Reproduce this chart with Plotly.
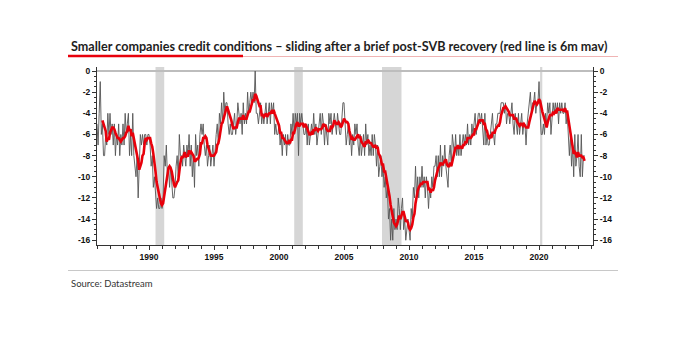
import plotly.graph_objects as go
import pandas as pd

# ---- data: monthly net % (Jan..Dec), start Jan 1986 ----
start_year = 1986
monthly_values = [
    [-5, -7, -4, -1, -6, -5, -8, -8, -6, -7, -4, -6],          # 1986
    [-4, -6, -5, -7, -5, -8, -6, -7, -5, -8, -6, -7],          # 1987
    [-5, -7, -4, -6, -5, -4, -8, -6, -8, -4, -8, -9],          # 1988
    [-10, -8, -12, -9, -6, -7, -6, -7, -6, -6, -7, -6],        # 1989
    [-6, -7, -9, -8, -11, -10, -12, -13, -12, -13, -13, -12],  # 1990
    [-13, -12, -8, -9, -7, -10, -9, -11, -9, -11, -12, -12],   # 1991
    [-11, -9, -8, -10, -6, -8, -8, -9, -7, -8, -9, -7],        # 1992
    [-8, -6, -9, -7, -10, -8, -11, -6, -8, -7, -9, -6],        # 1993
    [-5, -6, -5, -7, -8, -7, -9, -8, -7, -9, -8, -7],          # 1994
    [-9, -7, -6, -5, -7, -4, -5, -3, -5, -2, -4, -3],          # 1995
    [-3, -5, -6, -5, -6, -6, -5, -4, -6, -5, -3, -4],          # 1996
    [-5, -4, -6, -3, -5, -4, -5, -2, -4, -3, -2, -3],          # 1997
    [-2, -3, 0, -4, -4, -5, -4, -3, -5, -4, -5, -4],           # 1998
    [-3, -5, -4, -3, -5, -3, -4, -3, -6, -5, -6, -6],          # 1999
    [-5, -7, -6, -8, -6, -7, -6, -8, -6, -7, -7, -5],          # 2000
    [-6, -4, -6, -4, -5, -4, -8, -4, -5, -4, -5, -6],          # 2001
    [-6, -5, -7, -5, -7, -6, -5, -6, -4, -6, -5, -7],          # 2002
    [-6, -5, -4, -6, -4, -5, -7, -5, -6, -7, -4, -5],          # 2003
    [-4, -6, -5, -4, -5, -6, -4, -5, -6, -6, -4, -3],          # 2004
    [-3, -6, -7, -6, -5, -7, -6, -8, -6, -7, -5, -6],          # 2005
    [-5, -7, -8, -6, -8, -7, -6, -8, -5, -7, -6, -8],          # 2006
    [-7, -8, -6, -8, -6, -7, -9, -7, -10, -9, -8, -10],        # 2007
    [-9, -11, -10, -12, -11, -14, -13, -16, -14, -16, -13, -15],  # 2008
    [-14, -15, -12, -13, -15, -13, -12, -15, -14, -16, -15, -14],  # 2009
    [-15, -16, -13, -14, -11, -12, -9, -12, -10, -12, -10, -11],  # 2010
    [-9, -11, -10, -12, -10, -11, -13, -11, -12, -10, -11, -9],   # 2011
    [-9, -8, -10, -8, -10, -7, -10, -8, -9, -7, -9, -10],      # 2012
    [-11, -8, -7, -9, -6, -7, -8, -6, -8, -7, -8, -6],         # 2013
    [-8, -7, -6, -7, -6, -7, -5, -7, -6, -7, -5, -6],          # 2014
    [-5, -4, -6, -5, -4, -4, -5, -4, -6, -7, -4, -7],          # 2015
    [-6, -7, -7, -6, -5, -4, -6, -7, -5, -5, -4, -4],          # 2016
    [-4, -3, -3, -3, -4, -3, -5, -4, -4, -5, -4, -3],          # 2017
    [-5, -6, -4, -5, -6, -4, -6, -5, -4, -6, -5, -5],          # 2018
    [-7, -5, -4, -3, -2, -4, -3, -3, -2, -4, -3, -3],          # 2019
    [-1, -4, -6, -6, -5, -6, -4, -5, -3, -4, -3, -6],          # 2020
    [-4, -3, -4, -3, -4, -3, -5, -3, -4, -3, -4, -4],          # 2021
    [-3, -5, -4, -7, -8, -6, -9, -7, -10, -6, -9, -8],         # 2022
    [-6, -9, -10, -6, -10, -8, -8],                            # 2023
]

recessions = [(1990.5, 1991.17), (2001.17, 2001.83), (2007.92, 2009.42), (2020.08, 2020.25)]

year_ticks = [1990, 1995, 2000, 2005, 2010, 2015, 2020]
y_ticks = [0, -2, -4, -6, -8, -10, -12, -14, -16]

title_text = "Smaller companies credit conditions \u2013 sliding after a brief post-SVB recovery (red line is 6m mav)"
source_text = "Source: Datastream"

# ---- build series ----
xs, ys = [], []
for i, row in enumerate(monthly_values):
    for m, v in enumerate(row):
        xs.append(start_year + i + m / 12.0)
        ys.append(v)
s = pd.Series(ys, index=xs)
mav = s.rolling(6).mean()

# ---- layout geometry (pixels) ----
W, H = 692, 338
L, R, T, B = 97, 593, 67, 245


def px(xp):
    return (xp - L) / (R - L)


def py(yp):
    return (B - yp) / (B - T)


fig = go.Figure()
fig.add_trace(go.Scatter(x=xs, y=ys, mode="lines",
                         line=dict(color="#555555", width=0.9), hoverinfo="skip"))
fig.add_trace(go.Scatter(x=list(mav.index), y=list(mav.values), mode="lines",
                         line=dict(color="#e8000b", width=2.6), hoverinfo="skip"))
# dummy on right axis
fig.add_trace(go.Scatter(x=[1986.5], y=[-8], yaxis="y2", mode="markers",
                         marker=dict(opacity=0), hoverinfo="skip", showlegend=False))

shapes = []
for a, b in recessions:
    shapes.append(dict(type="rect", xref="x", yref="paper", x0=a, x1=b, y0=0, y1=1,
                       fillcolor="#d6d6d6", line=dict(width=0), layer="below"))
# title underline
shapes.append(dict(type="line", xref="paper", yref="paper", x0=px(243), x1=px(618),
                   y0=py(56.5), y1=py(56.5), line=dict(color="#f0b4b4", width=1)))
shapes.append(dict(type="line", xref="paper", yref="paper", x0=px(68), x1=px(243),
                   y0=py(56), y1=py(56), line=dict(color="#e8000b", width=2.5)))
# source separator
shapes.append(dict(type="line", xref="paper", yref="paper", x0=px(68), x1=px(618),
                   y0=py(270.5), y1=py(270.5), line=dict(color="#c8c8c8", width=1.2)))

annotations = [
    dict(text="<b>" + title_text + "</b>", xref="paper", yref="paper", x=px(69), y=py(46),
         xanchor="left", yanchor="middle", showarrow=False,
         font=dict(family="Lato", size=12.6, color="#1e1e1e")),
    dict(text=source_text, xref="paper", yref="paper", x=px(69), y=py(283),
         xanchor="left", yanchor="middle", showarrow=False,
         font=dict(family="Lato", size=9.5, color="#333333")),
]

yrange = [-16.45, 0.38]
tickfont = dict(family="Liberation Sans", size=8.5, color="#111111", weight="bold")
common_y = dict(range=yrange, tickvals=y_ticks, ticktext=[str(v) for v in y_ticks],
                showgrid=False, ticks="outside", ticklen=4, tickcolor="#333",
                showline=True, linecolor="#333", linewidth=1, tickfont=tickfont,
                minor=dict(dtick=0.5, tick0=0, ticks="outside", ticklen=2, tickcolor="#333"))

fig.update_layout(
    width=W, height=H, margin=dict(l=L, r=W - R, t=T, b=H - B),
    paper_bgcolor="white", plot_bgcolor="white", showlegend=False,
    shapes=shapes, annotations=annotations,
    xaxis=dict(range=[1986.0, 2024.15], tickvals=year_ticks, ticktext=[str(v) for v in year_ticks],
               showgrid=False, zeroline=False, ticks="outside", ticklen=4, tickcolor="#333",
               showline=True, linecolor="#333", linewidth=1, tickfont=tickfont,
               minor=dict(dtick=1, tick0=1986, ticks="outside", ticklen=3, tickcolor="#333")),
    yaxis=dict(zeroline=True, zerolinecolor="#bdbdbd", zerolinewidth=1.5, **common_y),
    yaxis2=dict(overlaying="y", side="right", zeroline=False, **common_y),
)

fig.write_html("out.html")
